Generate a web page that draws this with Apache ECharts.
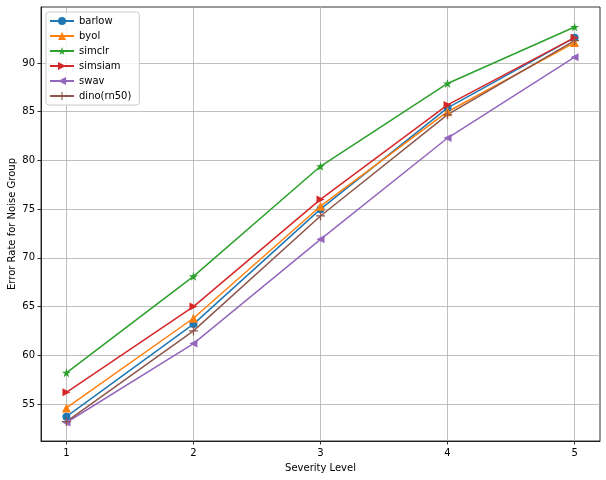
<!DOCTYPE html>
<html><head><meta charset="utf-8">
<script src="https://cdn.jsdelivr.net/npm/echarts@6/dist/echarts.min.js"></script>
<style>html,body{margin:0;padding:0;background:#fff}#c{width:606px;height:480px}</style>
</head><body><div id="c"></div>
<script>
const severity = [1, 2, 3, 4, 5];
const barlow  = [53.7, 63.2, 75.0, 85.4, 92.6];
const byol    = [54.6, 63.8, 75.3, 85.0, 92.1];
const simclr  = [58.2, 68.1, 79.4, 87.9, 93.7];
const simsiam = [56.2, 65.0, 76.0, 85.7, 92.6];
const swav    = [53.1, 61.2, 71.9, 82.3, 90.6];
const dino    = [53.2, 62.5, 74.3, 84.7, 92.3];
const yTicks = [55, 60, 65, 70, 75, 80, 85, 90];
const xTicks = [1, 2, 3, 4, 5];

const FONT = 'DejaVu Sans';
const pair = arr => severity.map((s, i) => [s, arr[i]]);
const STAR = 'path://M50,0L61.8,36.2L100,36.2L69.1,58.8L80.9,95.1L50,72.4L19.1,95.1L30.9,58.8L0,36.2L38.2,36.2Z';
const RIGHT = 'path://M0,0L100,50L0,100Z';
const LEFT = 'path://M100,0L0,50L100,100Z';
const PLUS = 'path://M43,0H57V43H100V57H57V100H43V57H0V43H43Z';

const defs = [
  {name: 'barlow', data: barlow, color: '#1f77b4', symbol: 'circle', size: 8},
  {name: 'byol', data: byol, color: '#ff7f0e', symbol: 'triangle', size: 9},
  {name: 'simclr', data: simclr, color: '#2ca02c', symbol: STAR, size: 9},
  {name: 'simsiam', data: simsiam, color: '#d62728', symbol: RIGHT, size: 8},
  {name: 'swav', data: swav, color: '#9467bd', symbol: LEFT, size: 8},
  {name: 'dino(rn50)', data: dino, color: '#8c564b', symbol: PLUS, size: 9}
];

const chart = echarts.init(document.getElementById('c'), null, {renderer: 'canvas'});
chart.setOption({
  animation: false,
  backgroundColor: '#fff',
  textStyle: {fontFamily: FONT},
  grid: {left: 41, right: 6, top: 7, bottom: 39, show: true, borderColor: '#000', borderWidth: 0.8, containLabel: false, outerBoundsMode: 'none'},
  legend: {
    orient: 'vertical', left: 46, top: 12,
    itemWidth: 24, itemHeight: 10, itemGap: 5,
    padding: [4, 8, 4, 3],
    backgroundColor: 'rgba(255,255,255,0.8)', borderColor: '#cccccc', borderWidth: 1, borderRadius: 3,
    textStyle: {fontFamily: FONT, fontSize: 10, color: '#000'},
    data: defs.map(d => d.name)
  },
  xAxis: {
    type: 'value', min: 0.8, max: 5.2,
    name: 'Severity Level', nameLocation: 'middle', nameGap: 22, nameMoveOverlap: false,
    nameTextStyle: {fontFamily: FONT, fontSize: 10, color: '#000'},
    axisLine: {show: true, onZero: false, lineStyle: {color: '#000', width: 0.8}},
    axisTick: {show: true, length: 3.5, customValues: xTicks, lineStyle: {color: '#000', width: 0.8}},
    axisLabel: {customValues: xTicks, fontFamily: FONT, fontSize: 10, color: '#000', margin: 7},
    splitLine: {show: true, lineStyle: {color: '#b0b0b0', width: 0.8}}
  },
  yAxis: {
    type: 'value', min: 51.2, max: 95.75,
    name: 'Error Rate for Noise Group', nameLocation: 'middle', nameGap: 24, nameMoveOverlap: false,
    nameTextStyle: {fontFamily: FONT, fontSize: 10, color: '#000'},
    axisLine: {show: true, onZero: false, lineStyle: {color: '#000', width: 0.8}},
    axisTick: {show: true, length: 3.5, customValues: yTicks, lineStyle: {color: '#000', width: 0.8}},
    axisLabel: {customValues: yTicks, fontFamily: FONT, fontSize: 10, color: '#000', margin: 6},
    splitLine: {show: true, lineStyle: {color: '#b0b0b0', width: 0.8}}
  },
  series: defs.map(d => ({
    name: d.name, type: 'line', data: pair(d.data),
    symbol: d.symbol, symbolSize: d.size, showSymbol: true,
    lineStyle: {color: d.color, width: 1.5},
    itemStyle: {color: d.color, borderWidth: 0},
    emphasis: {disabled: true}
  }))
});
</script></body></html>
